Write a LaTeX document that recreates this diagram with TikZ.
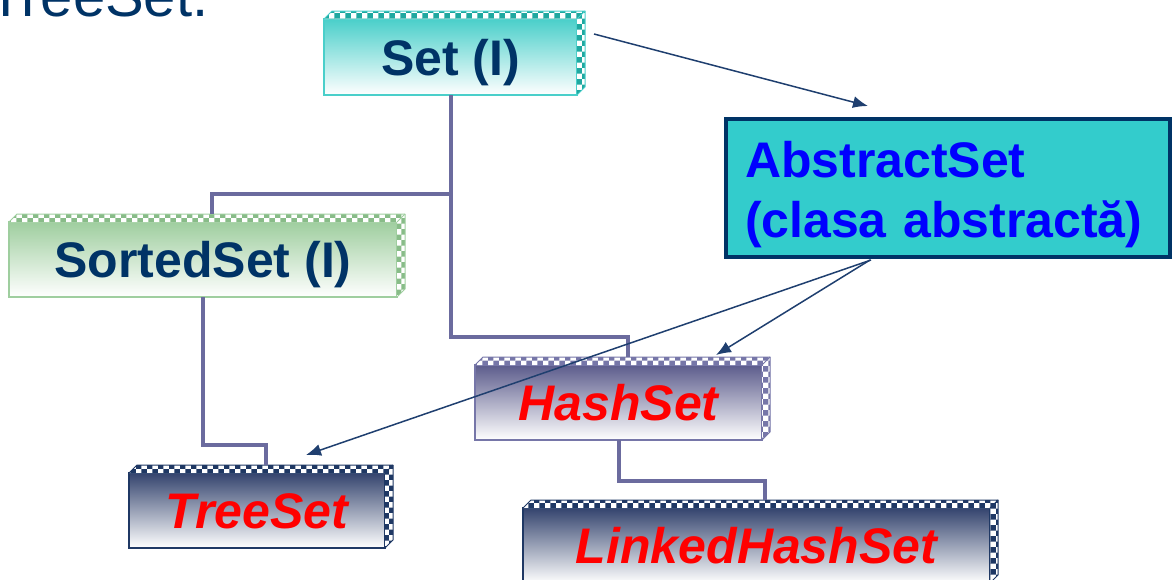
\documentclass[tikz,border=0pt]{standalone}
\usepackage{fontspec}
\setmainfont{Liberation Sans}
\usetikzlibrary{patterns,arrows.meta,calc}

\definecolor{navy}{HTML}{003366}
\definecolor{connc}{HTML}{6B6B9E}
\definecolor{arrc}{HTML}{1F3F6F}
\definecolor{tealA}{HTML}{4ACFCA}
\definecolor{tealB}{HTML}{1FA8A0}
\definecolor{greenA}{HTML}{9FCE9F}
\definecolor{greenB}{HTML}{88BC88}
\definecolor{purA}{HTML}{5C5C8C}
\definecolor{purB}{HTML}{7676A8}
\definecolor{navA}{HTML}{34446E}
\definecolor{navB}{HTML}{1F3864}
\definecolor{absfill}{HTML}{33CCCC}
\definecolor{redtxt}{HTML}{FF0000}
\definecolor{bluetxt}{HTML}{0000FF}

\newcommand\mybevel[4]{%
  \path[fill=#2, postaction={pattern=checkerboard, pattern color=#3}]
    (#1.north west) -- ++(8,-8) -- ([shift={(8,-8)}]#1.north east)
    -- ([shift={(8,-8)}]#1.south east) -- (#1.south east) -- (#1.north east) -- cycle;
  \draw[#4, line width=1pt, line join=round]
    (#1.north west) -- ++(8,-8) -- ([shift={(8,-8)}]#1.north east)
    -- ([shift={(8,-8)}]#1.south east) -- (#1.south east);
  \draw[#4, line width=1pt] (#1.north east) -- ++(8,-8);
}

\tikzset{
  box/.style={rectangle, inner sep=0pt, outer sep=0pt, text height=36pt, text depth=0pt,
    minimum height=75pt, line width=1.2pt, font=\fontsize{50}{60}\selectfont\bfseries, text=navy},
  ibox/.style={box, font=\fontsize{50}{60}\selectfont\bfseries\itshape, text=redtxt},
  conn/.style={draw=connc, line width=4pt},
  arr/.style={draw=arrc, line width=1.5pt, -{Latex[length=15pt,width=12pt]}},
}

\begin{document}
\begin{tikzpicture}[x=1pt,y=-1pt]
\useasboundingbox (0,0) rectangle (1176,579);
\clip (0,0) rectangle (1176,579);

\node[anchor=base west, text=navy, inner sep=0pt, font=\fontsize{58}{60}\selectfont] (title) at (-12,16) {TreeSet.};

\node[box, draw=tealA, top color=tealA, bottom color=white, minimum width=253pt, minimum height=76pt] (set) at (450.5,57) {Set (I)};
\node[box, draw=greenA, top color=greenA, bottom color=white, minimum width=388pt] (sorted) at (203,259.5) {SortedSet (I)};
\node[ibox, draw=purB, top color=purA, bottom color=white, minimum width=287pt] (hash) at (618.5,402.5) {HashSet};
\node[ibox, draw=navB, top color=navA, bottom color=white, minimum width=256pt] (tree) at (257,510.5) {TreeSet};
\node[ibox, draw=navB, top color=navA, bottom color=white, minimum width=467pt] (linked) at (756.5,545.5) {LinkedHashSet};

\mybevel{set}{white}{tealB}{tealA}
\mybevel{sorted}{white}{greenB}{greenA}
\mybevel{hash}{purB}{white}{purB}
\mybevel{tree}{white}{navB}{navB}
\mybevel{linked}{white}{navB}{navB}

\node[draw=navy, line width=4pt, fill=absfill, minimum width=444pt, minimum height=138pt,
  inner xsep=19pt, inner ysep=0pt, outer sep=0pt, text width=406pt, align=left, text=bluetxt,
  font=\fontsize{50}{60}\selectfont\bfseries] (abs) at (948,188)
  {\rule{0pt}{48.5pt}AbstractSet\\(clasa abstractă)\rule[-10.5pt]{0pt}{0pt}};

\coordinate (lv1) at (0,194);
\coordinate (lv2) at (0,337);
\coordinate (lv3) at (0,445);
\coordinate (lv4) at (0,481);
\coordinate (sortedtop) at ([shift={(9,-8)}]sorted.north);
\coordinate (hashtop) at ([shift={(9,-8)}]hash.north);
\coordinate (treetop) at ([shift={(9,-8)}]tree.north);
\coordinate (linkedtop) at ([shift={(8,-8)}]linked.north);

\draw[conn] (set.south) |- (sortedtop |- lv1) -- (sortedtop);
\draw[conn] (set.south) |- (hashtop |- lv2) -- (hashtop);
\draw[conn] (sorted.south) |- (treetop |- lv3) -- (treetop);
\draw[conn] (hash.south) |- (linkedtop |- lv4) -- (linkedtop);

\draw[arr] ([shift={(17,15)}]set.north east) -- ([shift={(142,-13)}]abs.north west);
\draw[arr] ([shift={(144,3)}]abs.south west) -- ([shift={(-46,-10)}]hash.north east);
\draw[arr] ([shift={(145,3)}]abs.south west) -- ([shift={(49,-18)}]tree.north);
\end{tikzpicture}
\end{document}
